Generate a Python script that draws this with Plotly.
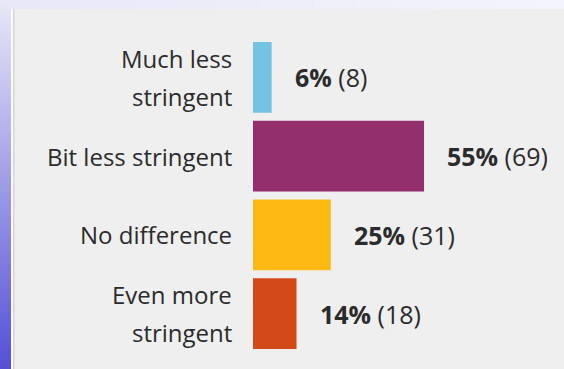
import plotly.graph_objects as go

categories = ["Much less<br>stringent", "Bit less stringent", "No difference", "Even more<br>stringent"]
percents = [6, 55, 25, 14]
counts = [8, 69, 31, 18]
colors = ["#74c3e2", "#922f6c", "#fdb813", "#d24a17"]

W, H = 564, 369
ML, MR, MT, MB = 253, 0, 38, 16
PW, PH = W - ML - MR, H - MT - MB

def px2x(px):
    return (px - ML) / PW

def py2y(py):
    return (H - MB - py) / PH

def mix(c1, c2, t):
    return "rgb(%d,%d,%d)" % tuple(round(a + (b - a) * t) for a, b in zip(c1, c2))

fig = go.Figure(go.Bar(
    y=categories, x=percents, orientation="h",
    marker=dict(color=colors, line=dict(width=0)),
    width=0.9, hoverinfo="skip",
))

shapes = []
# left gradient strip
n = 123
for i in range(n):
    y0, y1 = i * H / n, (i + 1) * H / n
    shapes.append(dict(type="rect", xref="paper", yref="paper", layer="below",
                       x0=px2x(0), x1=px2x(11), y0=py2y(y1 + 0.5), y1=py2y(y0),
                       line=dict(width=0),
                       fillcolor=mix((232, 232, 248), (86, 80, 214), i / (n - 1))))
# top strip
m = 40
for i in range(m):
    x0, x1 = 11 + i * (W - 11) / m, 11 + (i + 1) * (W - 11) / m
    shapes.append(dict(type="rect", xref="paper", yref="paper", layer="below",
                       x0=px2x(x0), x1=px2x(x1 + 0.5), y0=py2y(9), y1=py2y(0),
                       line=dict(width=0),
                       fillcolor=mix((232, 232, 248), (244, 244, 252), i / (m - 1))))
# panel edge lines
shapes.append(dict(type="rect", xref="paper", yref="paper", layer="below",
                   x0=px2x(11), x1=px2x(13), y0=py2y(H), y1=py2y(9),
                   line=dict(width=0), fillcolor="#fbfbfb"))
shapes.append(dict(type="rect", xref="paper", yref="paper", layer="below",
                   x0=px2x(13), x1=px2x(14.5), y0=py2y(H), y1=py2y(9),
                   line=dict(width=0), fillcolor="#d6d6d6"))

annotations = []
for cat, p, c in zip(categories, percents, counts):
    annotations.append(dict(x=p, y=cat, xref="x", yref="y", xanchor="left", yanchor="middle",
                            xshift=21, showarrow=False,
                            text="<b>%d%%</b> (%d)" % (p, c),
                            font=dict(family="Open Sans", size=25, color="#2b2b2b")))
    lines = cat.split("<br>")
    k = len(lines)
    for j, ln in enumerate(lines):
        annotations.append(dict(x=0, y=cat, xref="paper", yref="y", xanchor="right", yanchor="middle",
                                xshift=-19, yshift=(k - 1) * 19 - j * 38, showarrow=False,
                                text=ln, font=dict(family="Open Sans", size=24, color="#2b2b2b")))

fig.update_layout(
    width=W, height=H,
    margin=dict(l=ML, r=MR, t=MT, b=MB),
    paper_bgcolor="#efefef", plot_bgcolor="rgba(0,0,0,0)",
    showlegend=False,
    shapes=shapes, annotations=annotations,
    xaxis=dict(range=[0, 100], visible=False, fixedrange=True),
    yaxis=dict(autorange="reversed", showticklabels=False, showgrid=False,
               zeroline=False, showline=False, ticks="", fixedrange=True),
    bargap=0.1,
)

fig.write_html("out.html", config=dict(displayModeBar=False))
